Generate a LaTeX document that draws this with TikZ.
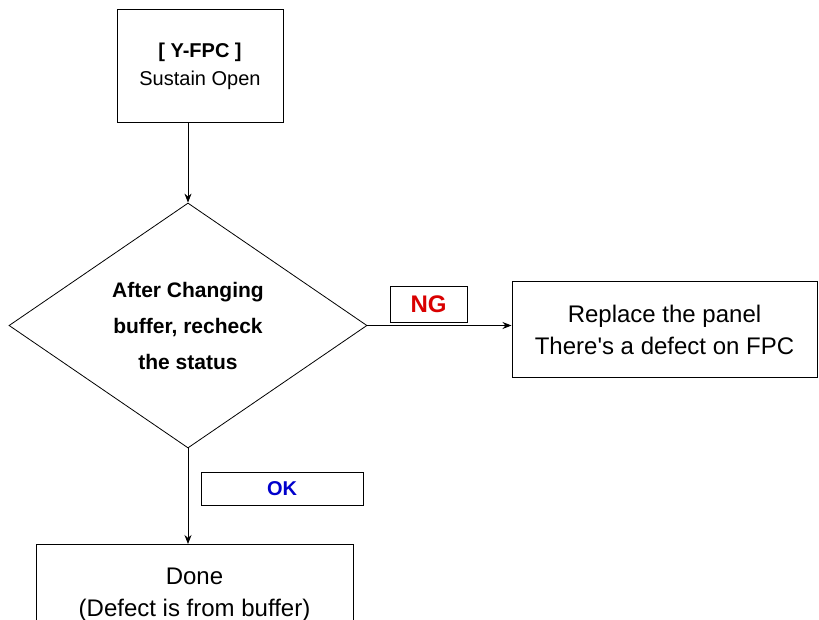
\documentclass[tikz,border=0pt]{standalone}
\usepackage{fontspec}
\setmainfont{Liberation Sans}
\usetikzlibrary{shapes.geometric,arrows.meta,calc}
\tikzset{
  >={Stealth[length=9pt,width=7pt]},
  procbox/.style={draw, rectangle, line width=1pt, align=center, inner sep=0pt},
  tagbox/.style={draw, rectangle, line width=1pt, inner sep=0pt, font=\bfseries\fontsize{20}{24}\selectfont},
  decision/.style={draw, diamond, line width=0.8pt, align=center, inner sep=0pt},
}

\begin{document}
\begin{tikzpicture}[
  x=1pt, y=-1pt,
  flow/.style={->, line width=0.9pt},
]
\useasboundingbox[fill=white] (0,0) rectangle (819,620);

\node[procbox, minimum width=166pt, minimum height=113pt,
      font=\fontsize{20}{28}\selectfont] (fpc) at (200,66.5)
  {\textbf{[ Y-FPC ]}\\Sustain Open};
\node[decision, minimum width=358pt, minimum height=245pt,
      font=\bfseries\fontsize{21}{36}\selectfont] (check) at (188,325.5)
  {After Changing\\buffer, recheck\\the status};
\node[procbox, minimum width=305pt, minimum height=95pt,
      font=\fontsize{24}{32}\selectfont] (replace) at (664.5,329.5)
  {Replace the panel\\There\textquotesingle s a defect on FPC};
\node[procbox, minimum width=317pt, minimum height=100pt,
      font=\fontsize{24}{32}\selectfont, anchor=north] (done) at (194.5,544)
  {Done\\(Defect is from buffer)};

\node[tagbox, minimum width=77pt, minimum height=35pt, text=red!85!black,
      font=\bfseries\fontsize{24}{28}\selectfont] (ng) at (428.5,304.5) {NG};
\node[tagbox, minimum width=162pt, minimum height=33pt, text=blue!80!black] (ok) at (282,488.5) {OK};

% connectors
\draw[flow] (fpc.south -| check.north) -- (check.north);
\draw[flow] (check.east) -- (check.east -| replace.west);
\draw[flow] (check.south) -- (check.south |- done.north);
\end{tikzpicture}
\end{document}
